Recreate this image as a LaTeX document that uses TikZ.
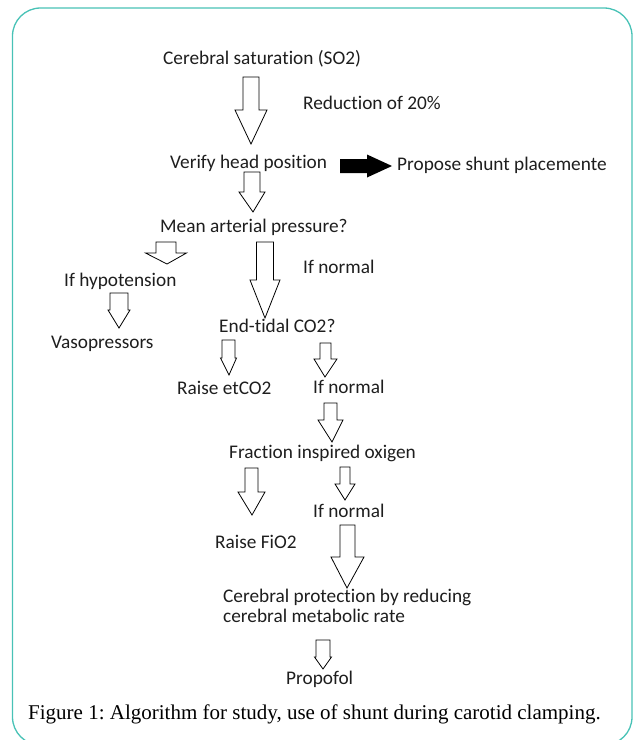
\documentclass[tikz,border=0pt]{standalone}
\usepackage{fontspec}
\setmainfont{Carlito}[Ligatures=NoCommon]
\newfontfamily\captionfont{Liberation Serif}
\usetikzlibrary{positioning,calc}
\definecolor{frameteal}{RGB}{72,194,182}
\definecolor{txtgray}{RGB}{30,30,30}
\tikzstyle{flowtext}=[inner sep=0,anchor=base west,text=txtgray,font=\fontsize{19.3}{20}\selectfont]
\tikzstyle{hollow}=[draw=black,fill=white,line width=0.8pt,line join=miter]
\tikzstyle{solidarrow}=[fill=black]
\tikzstyle{frame}=[draw=frameteal,line width=1.3pt,rounded corners=28]
% start, tip, shaft half width, head half width, head length
\newcommand{\hollowarrow}[5]{%
  \draw[hollow] let \p1=(#1), \p2=(#2) in
    (\x1-#3,\y1) -- (\x1+#3,\y1) -- (\x1+#3,\y2+#5) -- (\x1+#4,\y2+#5) -- (\x2,\y2)
    -- (\x1-#4,\y2+#5) -- (\x1-#3,\y2+#5) -- cycle;}
\frenchspacing

\begin{document}
\begin{tikzpicture}[x=1pt,y=-1pt]

	\useasboundingbox (0,0) rectangle (633,740);
	\draw[frame] (12.5,8) rectangle (632,745);

	\node[flowtext] (cer) at (163,64) {Cerebral saturation (SO2)};
	\node[flowtext] (red) at (303,109) {Reduction of 20\%};
	\node[flowtext] (ver) at (170,168) {Verify head position};
	\node[flowtext] (prop) at (397,170) {Propose shunt placemente};
	\node[flowtext] (map) at (160,232) {Mean arterial pressure?};
	\node[flowtext] (hyp) at (64,286) {If hypotension};
	\node[flowtext] (vas) at (51,348) {Vasopressors};
	\node[flowtext] (nor1) at (303,273) {If normal};
	\node[flowtext] (etc) at (219,332) {End-tidal CO2?};
	\node[flowtext] (rai1) at (177,394) {Raise etCO2};
	\node[flowtext] (nor2) at (313,393) {If normal};
	\node[flowtext] (fio) at (229,458) {Fraction inspired oxigen};
	\node[flowtext] (nor3) at (313,517) {If normal};
	\node[flowtext] (rai2) at (215,548) {Raise FiO2};
	\node[flowtext, align=left] (cpr) at (223,622) {Cerebral protection by reducing\\cerebral metabolic rate};
	\node[flowtext] (pro) at (286,684) {Propofol};

	\node[inner sep=0, anchor=base west, font=\captionfont\fontsize{21}{24}\selectfont] (cap) at (28,719)
		{Figure 1: Algorithm for study, use of shunt during carotid clamping.};

	\coordinate (a1s) at (251,77);   \coordinate (a1t) at (251,144);
	\coordinate (a2s) at (252,172);  \coordinate (a2t) at (253,212);
	\coordinate (a3s) at (166,242);  \coordinate (a3t) at (167,264);
	\coordinate (a4s) at (119,293);  \coordinate (a4t) at (119,328);
	\coordinate (a5s) at (265,242);  \coordinate (a5t) at (265,318);
	\coordinate (a6s) at (228.5,340);  \coordinate (a6t) at (229,375);
	\coordinate (a7s) at (325.5,343);  \coordinate (a7t) at (325,377);
	\coordinate (a8s) at (330.5,403);  \coordinate (a8t) at (332,442);
	\coordinate (a9s) at (251.5,468);  \coordinate (a9t) at (252,515);
	\coordinate (a10s) at (345,467); \coordinate (a10t) at (345,500);
	\coordinate (a11s) at (347.5,525); \coordinate (a11t) at (347,588);
	\coordinate (a12s) at (323,640); \coordinate (a12t) at (323,669);

	\hollowarrow{a1s}{a1t}{8}{16}{34}
	\hollowarrow{a2s}{a2t}{8}{13}{20}
	\hollowarrow{a3s}{a3t}{10}{20.5}{11}
	\hollowarrow{a4s}{a4t}{9}{11}{18}
	\hollowarrow{a5s}{a5t}{8.5}{15}{38}
	\hollowarrow{a6s}{a6t}{6.5}{8}{17}
	\hollowarrow{a7s}{a7t}{5.5}{11.5}{18}
	\hollowarrow{a8s}{a8t}{6.5}{12.5}{22}
	\hollowarrow{a9s}{a9t}{6.5}{13.5}{23}
	\hollowarrow{a10s}{a10t}{5}{10}{16}
	\hollowarrow{a11s}{a11t}{7.5}{16.5}{31}
	\hollowarrow{a12s}{a12t}{7}{8.5}{12}

	\coordinate (b0) at (340,166);   \coordinate (b1) at (392,166);
	\fill[solidarrow] let \p1=(b0), \p2=(b1) in
		(\x1,\y1-7) -- (\x2-25,\y1-7) -- (\x2-25,\y1-11.5) -- (\x2,\y2)
		-- (\x2-25,\y1+11.5) -- (\x2-25,\y1+7) -- (\x1,\y1+7) -- cycle;

\end{tikzpicture}
\end{document}
